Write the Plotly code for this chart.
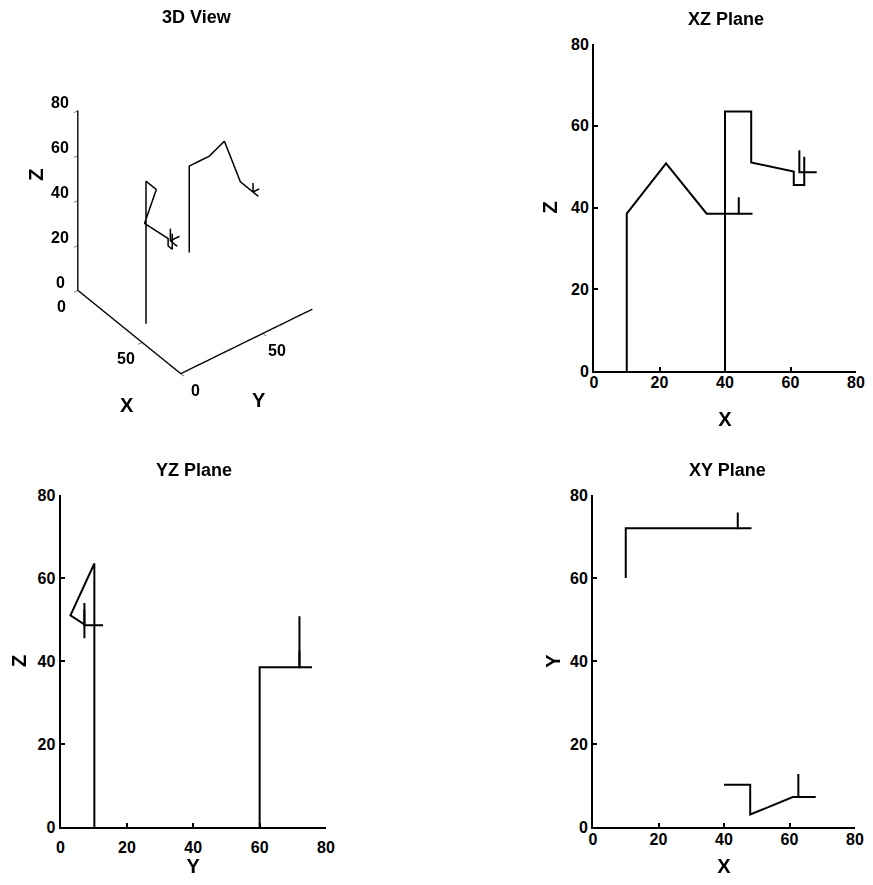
import plotly.graph_objects as go

# ---------------- data ----------------
# Arm 1: base at (X=10, Y=60)
arm1_x = [10, 10, 10, 22, 34.4, 44.2]
arm1_y = [60, 60, 72, 72, 72, 72]
arm1_z = [0, 38.5, 38.5, 50.8, 38.5, 38.5]
# Arm 1 end-effector frame (x tip -> origin -> y tip -> origin -> z tip)
frame1_x = [48.4, 44.2, 44.2, 44.2, 44.2]
frame1_y = [72, 72, 75.8, 72, 72]
frame1_z = [38.5, 38.5, 38.5, 38.5, 42.5]

# Arm 2: base at (X=40, Y=10), ends with a gripper
arm2_x = [40, 40, 48, 48, 61, 61, 64.2, 64.2]
arm2_y = [10.2, 10.2, 10.2, 3, 7.2, 7.2, 7.2, 7.2]
arm2_z = [0, 63.5, 63.5, 51, 48.8, 45.5, 45.5, 52.4]
# Arm 2 end-effector frame
frame2_x = [68, 62.7, 62.7, 62.7, 62.7]
frame2_y = [7.2, 7.2, 12.8, 7.2, 7.2]
frame2_z = [48.6, 48.6, 48.6, 48.6, 54]

paths = [
    (arm1_x, arm1_y, arm1_z),
    (frame1_x, frame1_y, frame1_z),
    (arm2_x, arm2_y, arm2_z),
    (frame2_x, frame2_y, frame2_z),
]

ticks_2d = [0, 20, 40, 60, 80]
ticks_3d_xy = [0, 50]
ticks_3d_z = [0, 20, 40, 60, 80]
axis_max = 80

titles = ["3D View", "XZ Plane", "YZ Plane", "XY Plane"]

# ---------------- figure ----------------
OFF = 8                       # page body margin
W, H = 863, 869
FONT = "Liberation Sans, Arial, sans-serif"
LINE = dict(color="black", width=2)


def fx(px):
    return (px - OFF) / W


def fy(py):
    return 1 - (py - OFF) / H


fig = go.Figure()

# 3D view
for px_, py_, pz_ in paths:
    fig.add_trace(go.Scatter3d(x=px_, y=py_, z=pz_, mode="lines", line=dict(color="black", width=3),
                               showlegend=False, hoverinfo="skip", scene="scene"))

# 2D projections: (horizontal index, vertical index, axes suffix)
proj = [(0, 2, ""), (1, 2, "2"), (0, 1, "3")]
for hi, vi, suf in proj:
    for p in paths:
        fig.add_trace(go.Scatter(x=p[hi], y=p[vi], mode="lines", line=LINE, showlegend=False,
                                 hoverinfo="skip", xaxis="x" + suf, yaxis="y" + suf))

TF = dict(family=FONT, size=16, color="black", weight="bold")
LF = dict(family=FONT, size=20, color="black", weight="bold")


def ax2d(domain, anchor, title, standoff, lab_standoff=0):
    return dict(domain=domain, anchor=anchor, range=[0, axis_max], tickvals=ticks_2d,
                showline=True, linecolor="black", linewidth=2, mirror=False,
                ticks="inside", ticklen=4, tickwidth=1.5, tickcolor="black",
                showgrid=False, zeroline=False, fixedrange=True, automargin=False,
                tickfont=TF, ticklabelstandoff=lab_standoff, ticklabeloverflow="allow",
                title=dict(text=title, font=LF, standoff=standoff))


axis3d = dict(showbackground=False, showgrid=False, zeroline=False, showline=True,
              linecolor="black", linewidth=3, ticks="inside", tickcolor="black",
              showspikes=False, range=[0, axis_max], showticklabels=False,
              title=dict(text=""))

# 3D tick labels / axis titles placed at the data positions of the ticks
ann3d = []
for v in ticks_3d_xy:
    ann3d.append(dict(x=v, y=0, z=0, text=str(v), showarrow=False, xshift=-16, yshift=-16, font=TF))
    ann3d.append(dict(x=axis_max, y=v, z=0, text=str(v), showarrow=False, xshift=15, yshift=-17, font=TF))
for v in ticks_3d_z:
    ann3d.append(dict(x=0, y=0, z=v, text=str(v), showarrow=False, xshift=-17, yshift=8, font=TF))
ann3d.append(dict(x=axis_max / 2, y=0, z=0, text="X", showarrow=False, xshift=-2, yshift=-73, font=LF))
ann3d.append(dict(x=axis_max, y=axis_max / 2, z=0, text="Y", showarrow=False, xshift=13, yshift=-59, font=LF))
ann3d.append(dict(x=0, y=0, z=axis_max / 2, text="Z", showarrow=False, xshift=-42, yshift=26,
                  textangle=-90, font=LF))

fig.update_layout(
    width=W, height=H, margin=dict(l=0, r=0, t=0, b=0, autoexpand=False),
    paper_bgcolor="white", plot_bgcolor="white",
    font=dict(family=FONT, color="black"),
    # XZ plane (top right)
    xaxis=ax2d([fx(594), fx(856)], "y", "X", 22, -4),
    yaxis=ax2d([fy(371), fy(44)], "x", "Z", 8),
    # YZ plane (bottom left)
    xaxis2=ax2d([fx(60.5), fx(326)], "y2", "Y", 10, 5),
    yaxis2=ax2d([fy(827), fy(495)], "x2", "Z", 8),
    # XY plane (bottom right)
    xaxis3=ax2d([fx(593), fx(855)], "y3", "X", 17, -3),
    yaxis3=ax2d([fy(827), fy(495)], "x3", "Y", 4),
    scene=dict(
        domain=dict(x=[fx(9.5), fx(379.5)], y=[fy(395), fy(25)]),
        xaxis=dict(axis3d, tickvals=ticks_3d_xy),
        yaxis=dict(axis3d, tickvals=ticks_3d_xy),
        zaxis=dict(axis3d, tickvals=ticks_3d_z),
        aspectmode="manual", aspectratio=dict(x=0.906, y=0.90, z=1.25),
        camera=dict(eye=dict(x=1.474, y=-1.147, z=1.515),
                    up=dict(x=0, y=0, z=1), center=dict(x=0, y=0, z=0),
                    projection=dict(type="orthographic")),
        dragmode=False,
        annotations=ann3d,
    ),
)

# subplot titles
title_pos = [(197, 17), (726, 19), (194, 470), (727, 470)]
for t, (tx, ty) in zip(titles, title_pos):
    fig.add_annotation(text=t, x=fx(tx), y=fy(ty), xref="paper", yref="paper",
                       showarrow=False, xanchor="center", yanchor="middle",
                       font=dict(family=FONT, size=18, color="black", weight="bold"))

fig.write_html("out.html", config={"displayModeBar": False})
